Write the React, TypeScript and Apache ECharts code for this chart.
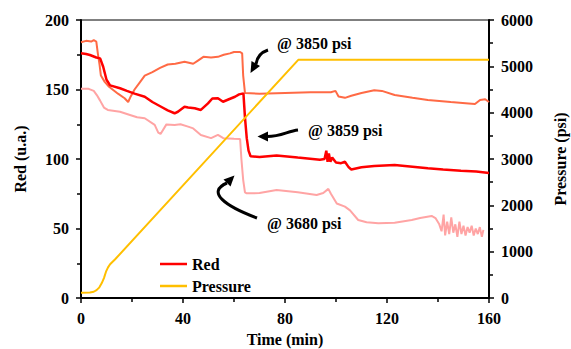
import React, { useEffect, useRef } from "react";
import * as echarts from "echarts";

const FONT = "Times New Roman, Liberation Serif, DejaVu Serif, serif";

const xTicks = { min: 0, max: 160, interval: 40 };
const leftTicks = { min: 0, max: 200, interval: 50 };
const rightTicks = { min: 0, max: 6000, interval: 1000 };

// [time (min), value]
const orangeSeries: [number, number][] = [
  [0, 184], [2, 185], [4, 184.5], [5, 185.5], [6, 184.5], [6.6, 176], [7.3, 167.5], [7.8, 160],
  [9.3, 155.5], [11, 152], [14.5, 147], [17.1, 143.7], [18.5, 141], [19.5, 145], [21, 150],
  [23, 155], [25, 160], [28, 162.5], [31, 165.5], [34, 168], [37, 168.5], [40.6, 170],
  [44, 168.5], [46, 171], [48, 173.5], [51, 173], [53.7, 173.5], [56, 175], [58.4, 176],
  [60, 177], [62.4, 177], [63.2, 176], [63.6, 160], [64.3, 147.5], [70, 147], [80, 147.5],
  [90, 148], [98, 148], [99.8, 149], [101, 145], [103.5, 144], [106, 145.5], [110, 147.5],
  [115, 149.5], [118, 149], [123, 146], [130, 144], [136, 142.5], [145, 141], [152, 140],
  [154.5, 139.5], [156.5, 142.5], [158.5, 143], [160, 141],
];

const redSeries: [number, number][] = [
  [0, 176], [2, 175.5], [3.5, 174.8], [6, 173], [7.5, 172.4], [8.7, 166.4], [10, 157],
  [11.4, 153], [15.3, 150.9], [18, 149], [21, 147], [25, 144.8], [28, 141], [31.4, 137.6],
  [34, 135], [36.7, 132.9], [38, 134], [40.6, 137.6], [42, 137], [44.6, 136.5], [47, 135.3],
  [49.8, 140], [51.5, 143.5], [53.7, 143.7], [55.7, 141.2], [58, 143], [60.4, 144.8],
  [62, 146.5], [63.7, 147.2], [64.3, 130], [65, 115], [65.7, 106], [66.5, 102], [70, 101.5],
  [76.7, 102.5], [85, 101], [93.7, 99.5], [95.5, 100], [96.2, 106], [96.7, 98], [97.2, 104],
  [97.8, 98], [98.5, 101], [100, 97.5], [102, 97], [103.5, 98], [105, 94], [106, 92.5],
  [110, 94], [115, 95], [123, 95.7], [130, 94.5], [136, 93.3], [142, 92.5], [149, 91.6],
  [155, 91], [160, 90],
];

const pinkSeries: [number, number][] = [
  [0, 150.5], [3, 150.5], [5, 149], [6.2, 146], [7.5, 142], [9, 137], [10.5, 135.3],
  [15.3, 134], [19.2, 131.7], [22, 130], [25, 129.3], [28.9, 124.5], [30.3, 119], [31.2, 118],
  [33.5, 124.9], [36.7, 124.5], [39, 125], [42, 123.3], [44, 122], [47, 117.3], [51, 115],
  [53.7, 117.3], [55.8, 115], [60, 114.5], [62.4, 114.4], [62.9, 100], [63.6, 85], [64.3, 76],
  [65, 75.3], [70, 75.5], [76.7, 77.7], [85, 76], [92.4, 74.1], [95, 75.5], [97, 78.5],
  [98, 75], [100.3, 68], [103.5, 65.7], [105.5, 63], [108.7, 56.1], [112, 54.5],
  [116.6, 53.7], [123, 54.2], [129.7, 56.1], [133, 57.5], [137.5, 59], [139, 57.5],
  [140.5, 53], [141.4, 48], [142.2, 60], [142.8, 45], [143.6, 55], [144.4, 46], [145.2, 58],
  [146, 47], [146.8, 53], [147.6, 44], [148.4, 55], [149.2, 46], [150, 52], [150.8, 45],
  [151.6, 51], [152.4, 47], [153.2, 52], [154, 45], [154.8, 50], [155.6, 46], [156.4, 51],
  [157.2, 44], [157.8, 49],
];

const pressureSeries: [number, number][] = [
  [0, 115], [3.5, 118], [5, 135], [6.1, 170], [7.2, 230], [8.1, 317], [9, 430], [9.8, 568],
  [10.6, 660], [11.4, 727], [13.3, 830], [85.2, 5140], [160, 5140],
];

const annotations = [
  { text: "@ 3850 psi", x: 277, y: 43 },
  { text: "@ 3859 psi", x: 308, y: 130 },
  { text: "@ 3680 psi", x: 267, y: 223 },
];

const legendNames = ["Red", "Pressure"];

export default function App() {
  const ref = useRef<HTMLDivElement>(null);
  useEffect(() => {
    if (!ref.current) return;
    const chart = echarts.init(ref.current, undefined, { renderer: "svg" });
    const axisText = { color: "#000", fontFamily: FONT, fontSize: 16, fontWeight: "bold" as const };
    const axisCommon = {
      axisLine: { show: true, lineStyle: { color: "#000", width: 2 } },
      axisTick: { show: true, length: 5, lineStyle: { color: "#000", width: 1.5 } },
      minorTick: { show: true, splitNumber: 2, length: 4, lineStyle: { color: "#000", width: 1.5 } },
      splitLine: { show: false },
      axisLabel: { ...axisText, margin: 12, formatter: (v: number) => String(v) },
      nameTextStyle: { ...axisText },
      nameLocation: "middle" as const,
    };
    const black = { fill: "#000" };
    const arrowStyle = { stroke: "#000", lineWidth: 3, fill: "none" };
    chart.setOption({
      animation: false,
      backgroundColor: "#fff",
      textStyle: { fontFamily: FONT },
      grid: {
        left: 81, right: 82, top: 20, bottom: 51, show: true, borderColor: "#000", borderWidth: 1,
        containLabel: false, outerBoundsMode: "none",
      },
      legend: {
        data: legendNames,
        orient: "vertical",
        left: 155,
        top: 251,
        icon: "rect",
        itemWidth: 27,
        itemHeight: 2.5,
        itemGap: 6,
        textStyle: { ...axisText },
      },
      xAxis: {
        type: "value",
        ...xTicks,
        ...axisCommon,
        name: "Time (min)",
        nameGap: 33,
      },
      yAxis: [
        {
          type: "value",
          ...leftTicks,
          ...axisCommon,
          name: "Red (u.a.)",
          nameGap: 53,
          nameRotate: 90,
        },
        {
          type: "value",
          position: "right",
          ...rightTicks,
          ...axisCommon,
          name: "Pressure (psi)",
          nameGap: 63,
          nameRotate: 90,
        },
      ],
      series: [
        {
          name: "Pink",
          type: "line",
          data: pinkSeries,
          symbol: "none",
          lineStyle: { color: "#ffa4a4", width: 2 },
          itemStyle: { color: "#ffa4a4" },
        },
        {
          name: "Orange",
          type: "line",
          data: orangeSeries,
          symbol: "none",
          lineStyle: { color: "#ff6a45", width: 2 },
          itemStyle: { color: "#ff6a45" },
        },
        {
          name: "Red",
          type: "line",
          data: redSeries,
          symbol: "none",
          lineStyle: { color: "#ff0000", width: 2.5 },
          itemStyle: { color: "#ff0000" },
        },
        {
          name: "Pressure",
          type: "line",
          yAxisIndex: 1,
          data: pressureSeries,
          symbol: "none",
          lineStyle: { color: "#ffbf00", width: 2 },
          itemStyle: { color: "#ffbf00" },
        },
      ],
      graphic: [
        ...annotations.map((a) => ({
          type: "text",
          x: a.x,
          y: a.y,
          style: {
            text: a.text, ...black, fontFamily: FONT, fontSize: 16, fontWeight: "bold",
            verticalAlign: "middle",
          },
        })),
        {
          type: "bezierCurve",
          shape: { x1: 268, y1: 50, cpx1: 262, cpy1: 52, cpx2: 257, cpy2: 57, x2: 256, y2: 64 },
          style: arrowStyle,
        },
        {
          type: "polygon",
          shape: { points: [[250.5, 73], [260, 66.1], [251.5, 60.9]] },
          style: black,
        },
        {
          type: "bezierCurve",
          shape: { x1: 298, y1: 130, cpx1: 288, cpy1: 131, cpx2: 280, cpy2: 137, x2: 266, y2: 136.5 },
          style: arrowStyle,
        },
        {
          type: "polygon",
          shape: { points: [[257.5, 136.5], [268, 131.5], [268, 141.5]] },
          style: black,
        },
        {
          type: "bezierCurve",
          shape: { x1: 257, y1: 218, cpx1: 225, cpy1: 206, cpx2: 206, cpy2: 192, x2: 227, y2: 183 },
          style: arrowStyle,
        },
        {
          type: "polygon",
          shape: { points: [[234.5, 175.5], [223.5, 179.5], [230.5, 186.5]] },
          style: black,
        },
      ],
    });
    return () => chart.dispose();
  }, []);
  return (
    <div
      ref={ref}
      style={{ position: "fixed", left: 0, top: 0, width: 571, height: 349, background: "#fff" }}
    />
  );
}
